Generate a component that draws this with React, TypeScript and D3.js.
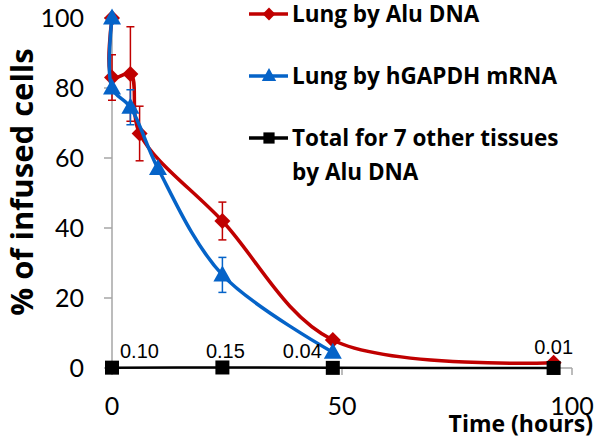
import React from "react";
import * as d3 from "d3";

const redX = [0, 0, 4, 6, 24, 48, 96];
const redY = [100, 83, 84, 67, 42, 8, 1.5];
const redErr = [0, 6.5, 13.5, 7.8, 5.4, 0, 0];

const blueX = [0, 0, 4, 10, 24, 48];
const blueY = [100, 80, 74.5, 57, 26.6, 4.5];
const blueErr = [0, 0, 5, 0, 5, 0];

const blackX = [0, 24, 48, 96];
const blackY = [0.1, 0.15, 0.04, 0.01];
const blackLabels = ["0.10", "0.15", "0.04", "0.01"];

const xTicks = [0, 50, 100];
const yTicks = [0, 20, 40, 60, 80, 100];

const legendItems = [
  { label: ["Lung by Alu DNA"], color: "#C00000", shape: "diamond" },
  { label: ["Lung by hGAPDH mRNA"], color: "#0563C8", shape: "triangle" },
  { label: ["Total for 7 other tissues", "by Alu DNA"], color: "#000000", shape: "square" },
];

const RED = "#C00000";
const BLUE = "#0563C8";

export default function App() {
  const x = d3.scaleLinear().domain([0, 100]).range([112, 572]);
  const y = d3.scaleLinear().domain([0, 100]).range([368, 18]);
  const font = "Lato, 'Open Sans', sans-serif";
  const boldFont = "'Open Sans', Lato, sans-serif";

  const line = d3
    .line<[number, number]>()
    .x((d) => x(d[0]))
    .y((d) => y(d[1]))
    .curve(d3.curveCatmullRom.alpha(0.5));

  const redPts: [number, number][] = redX.map((v, i) => [v, redY[i]]);
  const bluePts: [number, number][] = blueX.map((v, i) => [v, blueY[i]]);
  const blackPts: [number, number][] = blackX.map((v, i) => [v, blackY[i]]);

  const diamond = (cx: number, cy: number, r: number) =>
    `M${cx},${cy - r}L${cx + r},${cy}L${cx},${cy + r}L${cx - r},${cy}Z`;
  const triangle = (cx: number, cy: number, w: number, h: number) =>
    `M${cx},${cy - h / 2 - 2}L${cx + w / 2},${cy + h / 2 - 1}L${cx - w / 2},${cy + h / 2 - 1}Z`;

  const errBars = (xs: number[], ys: number[], es: number[], color: string) =>
    xs.map((xv, i) =>
      es[i] > 0 ? (
        <g key={i} stroke={color} strokeWidth={1.5}>
          <line x1={x(xv)} x2={x(xv)} y1={y(ys[i] + es[i])} y2={y(ys[i] - es[i])} />
          <line x1={x(xv) - 4} x2={x(xv) + 4} y1={y(ys[i] + es[i])} y2={y(ys[i] + es[i])} />
          <line x1={x(xv) - 4} x2={x(xv) + 4} y1={y(ys[i] - es[i])} y2={y(ys[i] - es[i])} />
        </g>
      ) : null
    );

  const marker = (shape: string, cx: number, cy: number, color: string, scale = 1) => {
    if (shape === "diamond") return <path d={diamond(cx, cy, 8 * scale)} fill={color} />;
    if (shape === "triangle") return <path d={triangle(cx, cy, 18 * scale, 15 * scale)} fill={color} />;
    return <rect x={cx - 7 * scale} y={cy - 7 * scale} width={14 * scale} height={14 * scale} fill={color} />;
  };

  return (
    <svg
      width={600}
      height={439}
      style={{ position: "absolute", left: 0, top: 0, background: "#fff" }}
      fontFamily={font}
    >
      <rect width={600} height={439} fill="#fff" />
      {/* axes */}
      <g stroke="#A6A6A6" strokeWidth={1.5}>
        <line x1={112} x2={112} y1={y(100)} y2={y(0)} />
        <line x1={112} x2={572} y1={y(0)} y2={y(0)} />
        {yTicks.map((t) => (
          <line key={t} x1={104} x2={112} y1={y(t)} y2={y(t)} />
        ))}
        {xTicks.map((t) => (
          <line key={t} x1={x(t)} x2={x(t)} y1={y(0)} y2={y(0) + 7} />
        ))}
      </g>
      {yTicks.map((t) => (
        <text key={t} x={84} y={y(t) + 9} textAnchor="end" fontSize={25} fill="#000">
          {t}
        </text>
      ))}
      {xTicks.map((t) => (
        <text key={t} x={x(t)} y={415} textAnchor="middle" fontSize={25} fill="#000">
          {t}
        </text>
      ))}
      <text
        transform="translate(33,182) rotate(-90)"
        textAnchor="middle"
        fontSize={31}
        fontWeight="bold"
        fontFamily={boldFont}
        fill="#000"
      >
        % of infused cells
      </text>
      <text x={593} y={432} textAnchor="end" fontSize={23} fontWeight="bold" fontFamily={boldFont} fill="#000">
        Time (hours)
      </text>

      {/* black series */}
      <path d={line(blackPts) || ""} fill="none" stroke="#000" strokeWidth={2.5} />
      {/* red series */}
      <path d={line(redPts) || ""} fill="none" stroke={RED} strokeWidth={3.5} />
      {errBars(redX, redY, redErr, RED)}
      {redPts.map((p, i) => (
        <g key={i}>{marker("diamond", x(p[0]), y(p[1]), RED)}</g>
      ))}
      {/* blue series */}
      <path d={line(bluePts) || ""} fill="none" stroke={BLUE} strokeWidth={3.5} />
      {errBars(blueX, blueY, blueErr, BLUE)}
      {bluePts.map((p, i) => (
        <g key={i}>{marker("triangle", x(p[0]), y(p[1]), BLUE)}</g>
      ))}
      {blackPts.map((p, i) => (
        <g key={i}>{marker("square", x(p[0]), y(p[1]), "#000")}</g>
      ))}
      {/* data labels */}
      {blackPts.map((p, i) => {
        const px = x(p[0]);
        const anchors = ["start", "middle", "end", "middle"];
        const dx = [8, 3, -11, 0];
        return (
          <text
            key={i}
            x={px + dx[i]}
            y={i === 3 ? 354 : 358}
            textAnchor={anchors[i]}
            fontSize={20}
            fontFamily="'Liberation Sans', Arial, sans-serif"
            fill="#000"
          >
            {blackLabels[i]}
          </text>
        );
      })}

      {/* legend */}
      {legendItems.map((item, i) => {
        const cy = 14 + i * 62;
        return (
          <g key={i}>
            <line x1={249} x2={288} y1={cy} y2={cy} stroke={item.color} strokeWidth={3.5} />
            {marker(item.shape, 269, cy, item.color, 0.8)}
            {item.label.map((l, j) => (
              <text
                key={j}
                x={292}
                y={cy + 8 + j * 34}
                fontSize={22.5}
                fontWeight="bold"
                fontFamily={boldFont}
                fill="#000"
              >
                {l}
              </text>
            ))}
          </g>
        );
      })}
    </svg>
  );
}
